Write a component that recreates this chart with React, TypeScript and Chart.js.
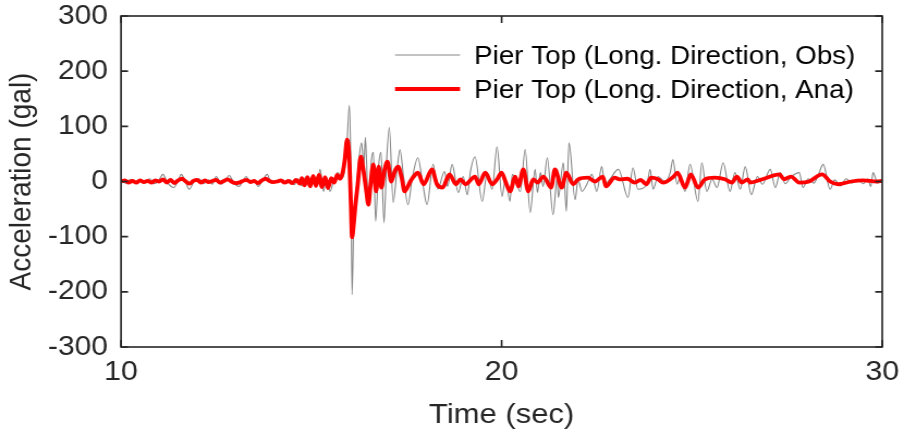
import React, { useEffect, useRef } from "react";
import { Chart, registerables } from "chart.js";

Chart.register(...registerables);

// Observed record (time in s, acceleration in gal)
const obsTime = [
  10.0, 10.12, 10.25, 10.38, 10.5, 10.62, 10.75, 10.88, 11.0, 11.1, 11.22, 11.39, 11.5, 11.58, 11.68, 11.79, 11.92,
  12.05, 12.18, 12.3, 12.4, 12.5, 12.63, 12.74, 12.84, 12.97, 13.1, 13.2, 13.29, 13.4, 13.5, 13.6, 13.72, 13.84,
  13.95, 14.05, 14.12, 14.23, 14.35, 14.45, 14.55, 14.65, 14.75, 14.85, 14.95, 15.05, 15.15, 15.23, 15.32, 15.4,
  15.49, 15.6, 15.7, 15.78, 15.86, 15.93, 16.0, 16.04, 16.07, 16.12, 16.18, 16.25, 16.32, 16.38, 16.42, 16.5,
  16.58, 16.63, 16.69, 16.77, 16.83, 16.91, 16.98, 17.05, 17.15, 17.25, 17.33, 17.42, 17.54, 17.65, 17.8, 17.92,
  18.04, 18.2, 18.32, 18.5, 18.58, 18.7, 18.86, 18.99, 19.1, 19.18, 19.3, 19.49, 19.62, 19.75, 19.88, 20.01, 20.1,
  20.22, 20.28, 20.49, 20.62, 20.75, 20.88, 20.94, 21.02, 21.09, 21.2, 21.35, 21.46, 21.49, 21.62, 21.7, 21.77,
  21.93, 22.01, 22.11, 22.24, 22.37, 22.5, 22.63, 22.71, 22.84, 23.07, 23.32, 23.45, 23.58, 23.82, 23.9, 23.98,
  24.11, 24.29, 24.43, 24.5, 24.61, 24.69, 24.82, 24.95, 25.16, 25.26, 25.39, 25.53, 25.66, 25.82, 26.0, 26.13,
  26.27, 26.4, 26.56, 26.72, 26.85, 27.06, 27.19, 27.32, 27.45, 27.6, 27.82, 27.92, 28.05, 28.2, 28.3, 28.45,
  28.63, 28.75, 28.9, 29.05, 29.2, 29.35, 29.5, 29.62, 29.7, 29.76, 29.88, 30.0,
];
const obsAcc = [
  2, -3, 4, -4, 3, -3, 5, -4, 3, 13, -2, -11, 2, 13, 2, -14, 0,
  5, -4, 3, -5, 9, -5, 2, 11, -3, -9, 1, 9, -3, 3, -9, 2, 13,
  -3, 2, -2, 4, -4, 3, -6, 5, -8, 8, -10, 6, -8, 22, -18, 8,
  -18, 5, 16, 5, 15, 60, 138, 20, -205, -60, -20, 40, 70, 30, 80, -45,
  40, 53, -72, 30, 53, -75, 40, 98, -38, 20, 58, 10, -42, 5, 43, 0,
  -42, 31, -14, 18, -9, 31, -20, 9, -24, 18, 45, -36, 16, -14, 63, -27, 5,
  -36, 13, -18, 58, -56, 22, -20, 16, -9, 43, -60, 7, -29, 34, -54, 70,
  -33, 4, -18, -5, 13, -18, 27, -5, 4, 22, -29, 25, -14, -5, 22, -14,
  9, 0, 16, 40, -5, 7, -18, 31, -36, 34, -18, 4, -11, 34, -18, 16,
  -14, 27, -24, 9, -5, 22, -11, 16, -4, 8, 16, -11, 5, -3, 8, 31,
  -14, 3, -8, 5, -3, 4, -4, 5, -9, 16, -3, 2,
];

// Analytical record (time in s, acceleration in gal)
const anaTime = [
  10.0, 10.1, 10.2, 10.3, 10.4, 10.5, 10.6, 10.7, 10.8, 10.9, 11.0, 11.1, 11.2, 11.3, 11.4, 11.5, 11.6, 11.7,
  11.8, 11.9, 12.0, 12.1, 12.2, 12.3, 12.4, 12.5, 12.6, 12.7, 12.8, 12.9, 13.0, 13.1, 13.2, 13.3, 13.4, 13.5,
  13.6, 13.7, 13.8, 13.9, 14.0, 14.1, 14.2, 14.3, 14.4, 14.5, 14.6, 14.7, 14.75, 14.82, 14.9, 14.97, 15.05,
  15.12, 15.2, 15.28, 15.36, 15.44, 15.52, 15.6, 15.68, 15.75, 15.82, 15.88, 15.94, 15.99, 16.04, 16.07, 16.11,
  16.16, 16.22, 16.3, 16.37, 16.45, 16.5, 16.55, 16.63, 16.7, 16.77, 16.84, 16.92, 17.0, 17.1, 17.2, 17.28,
  17.38, 17.45, 17.52, 17.6, 17.7, 17.8, 17.95, 18.17, 18.3, 18.45, 18.63, 18.8, 18.92, 19.05, 19.3, 19.4,
  19.57, 19.75, 19.88, 20.0, 20.1, 20.22, 20.36, 20.44, 20.57, 20.7, 20.83, 20.94, 21.1, 21.3, 21.4, 21.58,
  21.7, 21.88, 22.01, 22.27, 22.45, 22.66, 22.74, 22.97, 23.1, 23.3, 23.5, 23.65, 23.8, 23.93, 24.11, 24.24,
  24.52, 24.62, 24.82, 24.97, 25.16, 25.34, 25.6, 25.87, 26.05, 26.18, 26.31, 26.47, 26.53, 26.85, 27.3,
  27.42, 27.6, 27.82, 28.08, 28.42, 28.63, 28.84, 29.18, 29.5, 29.85, 30.0,
];
const anaAcc = [
  0, 2, -2, 1, -2, 2, -1, 1, -2, 2, 0, 4, -2, 3, -3, 2, 5, 0,
  -4, 1, 3, -2, 2, -1, 1, 3, -2, 1, 4, 0, -3, -2, 1, 3, -1, 1,
  -3, 2, 5, 1, -1, 0, 2, -2, 1, -3, 3, -4, 6, -7, 8, -9, 10,
  -8, 12, -10, 8, -12, 6, -2, 12, 5, 15, 40, 76, 50, -40, -101, -80,
  -42, -5, 45, 20, -20, -42, -10, 31, -18, 27, -11, 20, 36, 0, 20, 27,
  5, -18, -11, 0, 10, 16, -5, 22, -5, -11, 13, -5, 4, -5, 9, -5,
  16, -5, 4, 16, 0, -18, 9, -9, 22, -18, 4, -2, 9, -11, 22, -11,
  16, -5, 4, 7, 0, 9, -9, 7, 4, 5, -2, 3, -5, 7, 4, -2,
  9, 16, -11, 13, -11, 4, 7, 4, -2, 9, -2, 4, -2, 4, 13,
  4, 9, -2, 0, 13, 0, -5, 0, 2, 0, 1,
];

const xTicks = [10, 20, 30];
const yTicks = [-300, -200, -100, 0, 100, 200, 300];
const seriesLabels = ["Pier Top (Long. Direction, Obs)", "Pier Top (Long. Direction, Ana)"];

const AXIS_COLOR = "#262626";
const FONT = "'Liberation Sans', Arial, sans-serif";

// The figure is rendered on a slightly narrower canvas and shown at full width,
// reproducing the horizontally widened look of the reference.
const OUT_W = 904;
const OUT_H = 439;
const SX = 1.089;
const IN_W = Math.round(OUT_W / SX);

const framePlugin = {
  id: "frameTicks",
  afterDatasetsDraw(chart: any) {
    const { ctx, chartArea } = chart;
    const xs = chart.scales.x;
    const ys = chart.scales.y;
    ctx.save();
    ctx.strokeStyle = AXIS_COLOR;
    ctx.lineWidth = 1.6;
    ctx.strokeRect(chartArea.left, chartArea.top, chartArea.right - chartArea.left, chartArea.bottom - chartArea.top);
    const tlx = 7 / SX;
    const tly = 7;
    ctx.beginPath();
    yTicks.forEach((v) => {
      const py = ys.getPixelForValue(v);
      ctx.moveTo(chartArea.left, py);
      ctx.lineTo(chartArea.left + tlx, py);
      ctx.moveTo(chartArea.right, py);
      ctx.lineTo(chartArea.right - tlx, py);
    });
    xTicks.forEach((v) => {
      const px = xs.getPixelForValue(v);
      ctx.moveTo(px, chartArea.bottom);
      ctx.lineTo(px, chartArea.bottom - tly);
      ctx.moveTo(px, chartArea.top);
      ctx.lineTo(px, chartArea.top + tly);
    });
    ctx.stroke();
    ctx.restore();
  },
  afterDraw(chart: any) {
    const { ctx, chartArea } = chart;
    const ds = chart.data.datasets;
    ctx.save();
    ctx.font = `25.5px ${FONT}`;
    ctx.textBaseline = "middle";
    ctx.textAlign = "left";
    const lineX0 = chartArea.left + 274 / SX;
    const lineX1 = lineX0 + 65 / SX;
    const textX = lineX1 + 14 / SX;
    const rows = [ds[1], ds[0]];
    rows.forEach((d: any, i: number) => {
      const y = chartArea.top + 39 + i * 34;
      ctx.strokeStyle = d.borderColor;
      ctx.lineWidth = d.borderWidth;
      ctx.beginPath();
      ctx.moveTo(lineX0, y);
      ctx.lineTo(lineX1, y);
      ctx.stroke();
      ctx.fillStyle = "#000000";
      ctx.fillText(d.label, textX, y + 2);
    });
    ctx.restore();
  },
};

export default function App() {
  const ref = useRef<HTMLCanvasElement | null>(null);
  useEffect(() => {
    if (!ref.current) return;
    const chart = new Chart(ref.current, {
      type: "line",
      data: {
        datasets: [
          {
            label: seriesLabels[1],
            data: anaTime.map((t, i) => ({ x: t, y: anaAcc[i] })),
            borderColor: "#ff0000",
            borderWidth: 3.8,
            pointRadius: 0,
            cubicInterpolationMode: "monotone",
            order: 0,
          },
          {
            label: seriesLabels[0],
            data: obsTime.map((t, i) => ({ x: t, y: obsAcc[i] })),
            borderColor: "#858585",
            borderWidth: 1.1,
            pointRadius: 0,
            cubicInterpolationMode: "monotone",
            order: 1,
          },
        ],
      },
      options: {
        animation: false,
        responsive: false,
        maintainAspectRatio: false,
        devicePixelRatio: 1,
        layout: { padding: { top: 16, right: IN_W - 810, left: 0, bottom: 0 } },
        plugins: { legend: { display: false }, tooltip: { enabled: false } },
        scales: {
          x: {
            type: "linear",
            min: 10,
            max: 30,
            afterBuildTicks: (s: any) => {
              s.ticks = xTicks.map((v) => ({ value: v }));
            },
            afterFit: (s: any) => {
              s.height = 92;
              s.paddingLeft = 0;
              s.paddingRight = 0;
            },
            grid: { display: false, drawTicks: false },
            border: { display: false },
            ticks: {
              color: AXIS_COLOR,
              font: { family: FONT, size: 28 },
              padding: 8,
              maxRotation: 0,
              autoSkip: false,
            },
            title: {
              display: true,
              text: "Time (sec)",
              color: AXIS_COLOR,
              font: { family: FONT, size: 28.5 },
              padding: { top: 0, bottom: 7 },
            },
          },
          y: {
            type: "linear",
            min: -300,
            max: 300,
            afterBuildTicks: (s: any) => {
              s.ticks = yTicks.map((v) => ({ value: v }));
            },
            afterFit: (s: any) => {
              s.width = 121 / SX;
              s.paddingTop = 0;
              s.paddingBottom = 0;
            },
            grid: { display: false, drawTicks: false },
            border: { display: false },
            ticks: {
              color: AXIS_COLOR,
              font: { family: FONT, size: 27.5 },
              padding: 12,
              autoSkip: false,
            },
            title: {
              display: true,
              text: "Acceleration (gal)",
              color: AXIS_COLOR,
              font: { family: FONT, size: 28 },
              padding: { top: 3, bottom: 0 },
            },
          },
        },
      },
      plugins: [framePlugin],
    });
    return () => chart.destroy();
  }, []);
  return (
    <div style={{ position: "fixed", left: 0, top: 0, width: OUT_W, height: OUT_H, background: "#ffffff" }}>
      <canvas
        ref={ref}
        width={IN_W}
        height={OUT_H}
        style={{ width: OUT_W, height: OUT_H, display: "block" }}
      />
    </div>
  );
}
